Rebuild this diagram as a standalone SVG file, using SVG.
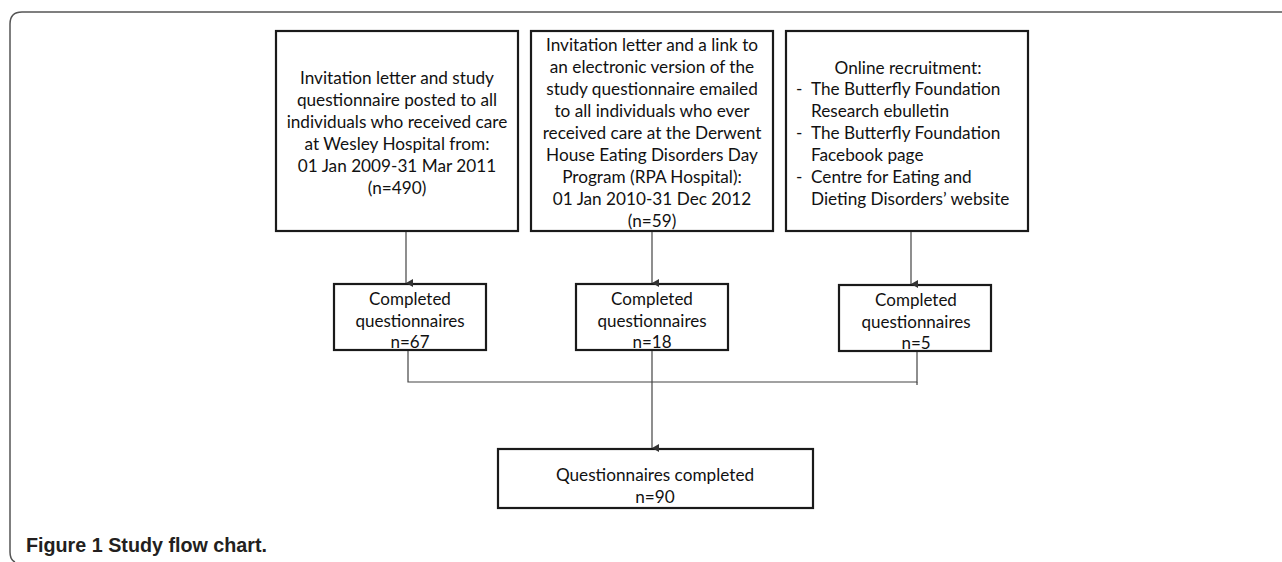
<svg xmlns="http://www.w3.org/2000/svg" width="1282" height="562" viewBox="0 0 1282 562">
<defs>
<marker id="arr" markerWidth="8" markerHeight="8" refX="4" refY="7" orient="auto" markerUnits="userSpaceOnUse">
<path d="M0,0 L8,0 L4,7 Z" fill="#333"/>
</marker>
<style>
.box{fill:#fff;stroke:#1a1a1a;stroke-width:2.2}
.t{font-family:Lato,"Open Sans",sans-serif;font-size:17.2px;fill:#111;text-anchor:middle}
.s{font-family:Lato,"Open Sans",sans-serif;font-size:17px;fill:#111;text-anchor:middle}
.l{font-family:Lato,"Open Sans",sans-serif;font-size:17.2px;fill:#111}
.c{fill:none;stroke:#444;stroke-width:1.2}
.cap{font-family:"Liberation Sans",Arial,sans-serif;font-size:20px;font-weight:bold;fill:#231f20}
</style>
</defs>
<rect width="1282" height="562" fill="#fff"/>
<path d="M1282,12 L22,12 Q10,12 10,24 L10,552 Q10,560 15,562" fill="none" stroke="#555" stroke-width="1.5"/>

<g id="box1">
<rect class="box" x="276" y="31" width="242" height="200"/>
<text class="t" x="397" y="84">Invitation letter and study</text>
<text class="t" x="397" y="106">questionnaire posted to all</text>
<text class="t" x="397" y="128">individuals who received care</text>
<text class="t" x="397" y="150">at Wesley Hospital from:</text>
<text class="t" x="397" y="172">01 Jan 2009-31 Mar 2011</text>
<text class="t" x="397" y="194">(n=490)</text>
</g>

<g id="box2">
<rect class="box" x="531" y="31" width="242" height="200"/>
<text class="t" x="652" y="51">Invitation letter and a link to</text>
<text class="t" x="652" y="73">an electronic version of the</text>
<text class="t" x="652" y="95">study questionnaire emailed</text>
<text class="t" x="652" y="117">to all individuals who ever</text>
<text class="t" x="652" y="139">received care at the Derwent</text>
<text class="t" x="652" y="161">House Eating Disorders Day</text>
<text class="t" x="652" y="183">Program (RPA Hospital):</text>
<text class="t" x="652" y="205">01 Jan 2010-31 Dec 2012</text>
<text class="t" x="652" y="227">(n=59)</text>
</g>

<g id="box3">
<rect class="box" x="786" y="31" width="242" height="200"/>
<text class="t" x="908" y="74">Online recruitment:</text>
<text class="l" x="796" y="95">-</text>
<text class="l" x="811" y="95">The Butterfly Foundation</text>
<text class="l" x="811" y="117">Research ebulletin</text>
<text class="l" x="796" y="139">-</text>
<text class="l" x="811" y="139">The Butterfly Foundation</text>
<text class="l" x="811" y="161">Facebook page</text>
<text class="l" x="796" y="183">-</text>
<text class="l" x="811" y="183">Centre for Eating and</text>
<text class="l" x="811" y="205">Dieting Disorders’ website</text>
</g>

<g id="c1">
<rect class="box" x="334" y="284" width="152" height="66"/>
<text class="s" x="410" y="305">Completed</text>
<text class="s" x="410" y="327">questionnaires</text>
<text class="s" x="410" y="348">n=67</text>
</g>

<g id="c2">
<rect class="box" x="576" y="284" width="152" height="66"/>
<text class="s" x="652" y="305">Completed</text>
<text class="s" x="652" y="327">questionnaires</text>
<text class="s" x="652" y="348">n=18</text>
</g>

<g id="c3">
<rect class="box" x="839" y="285" width="152" height="66"/>
<text class="s" x="916" y="306">Completed</text>
<text class="s" x="916" y="328">questionnaires</text>
<text class="s" x="916" y="349">n=5</text>
</g>

<g id="total">
<rect class="box" x="498" y="449" width="315" height="59"/>
<text class="t" x="655" y="481">Questionnaires completed</text>
<text class="t" x="655" y="503">n=90</text>
</g>

<g id="connectors">
<line class="c" x1="406" y1="232" x2="406" y2="283" marker-end="url(#arr)"/>
<line class="c" x1="652" y1="232" x2="652" y2="283" marker-end="url(#arr)"/>
<line class="c" x1="911" y1="232" x2="911" y2="284" marker-end="url(#arr)"/>
<polyline class="c" points="408,351 408,382 917,382 917,352"/>
<line class="c" x1="917" y1="382" x2="917" y2="385"/>
<line class="c" x1="652" y1="351" x2="652" y2="448" marker-end="url(#arr)"/>
</g>

<text class="cap" x="26" y="552" textLength="241" lengthAdjust="spacingAndGlyphs">Figure 1 Study flow chart.</text>
</svg>
